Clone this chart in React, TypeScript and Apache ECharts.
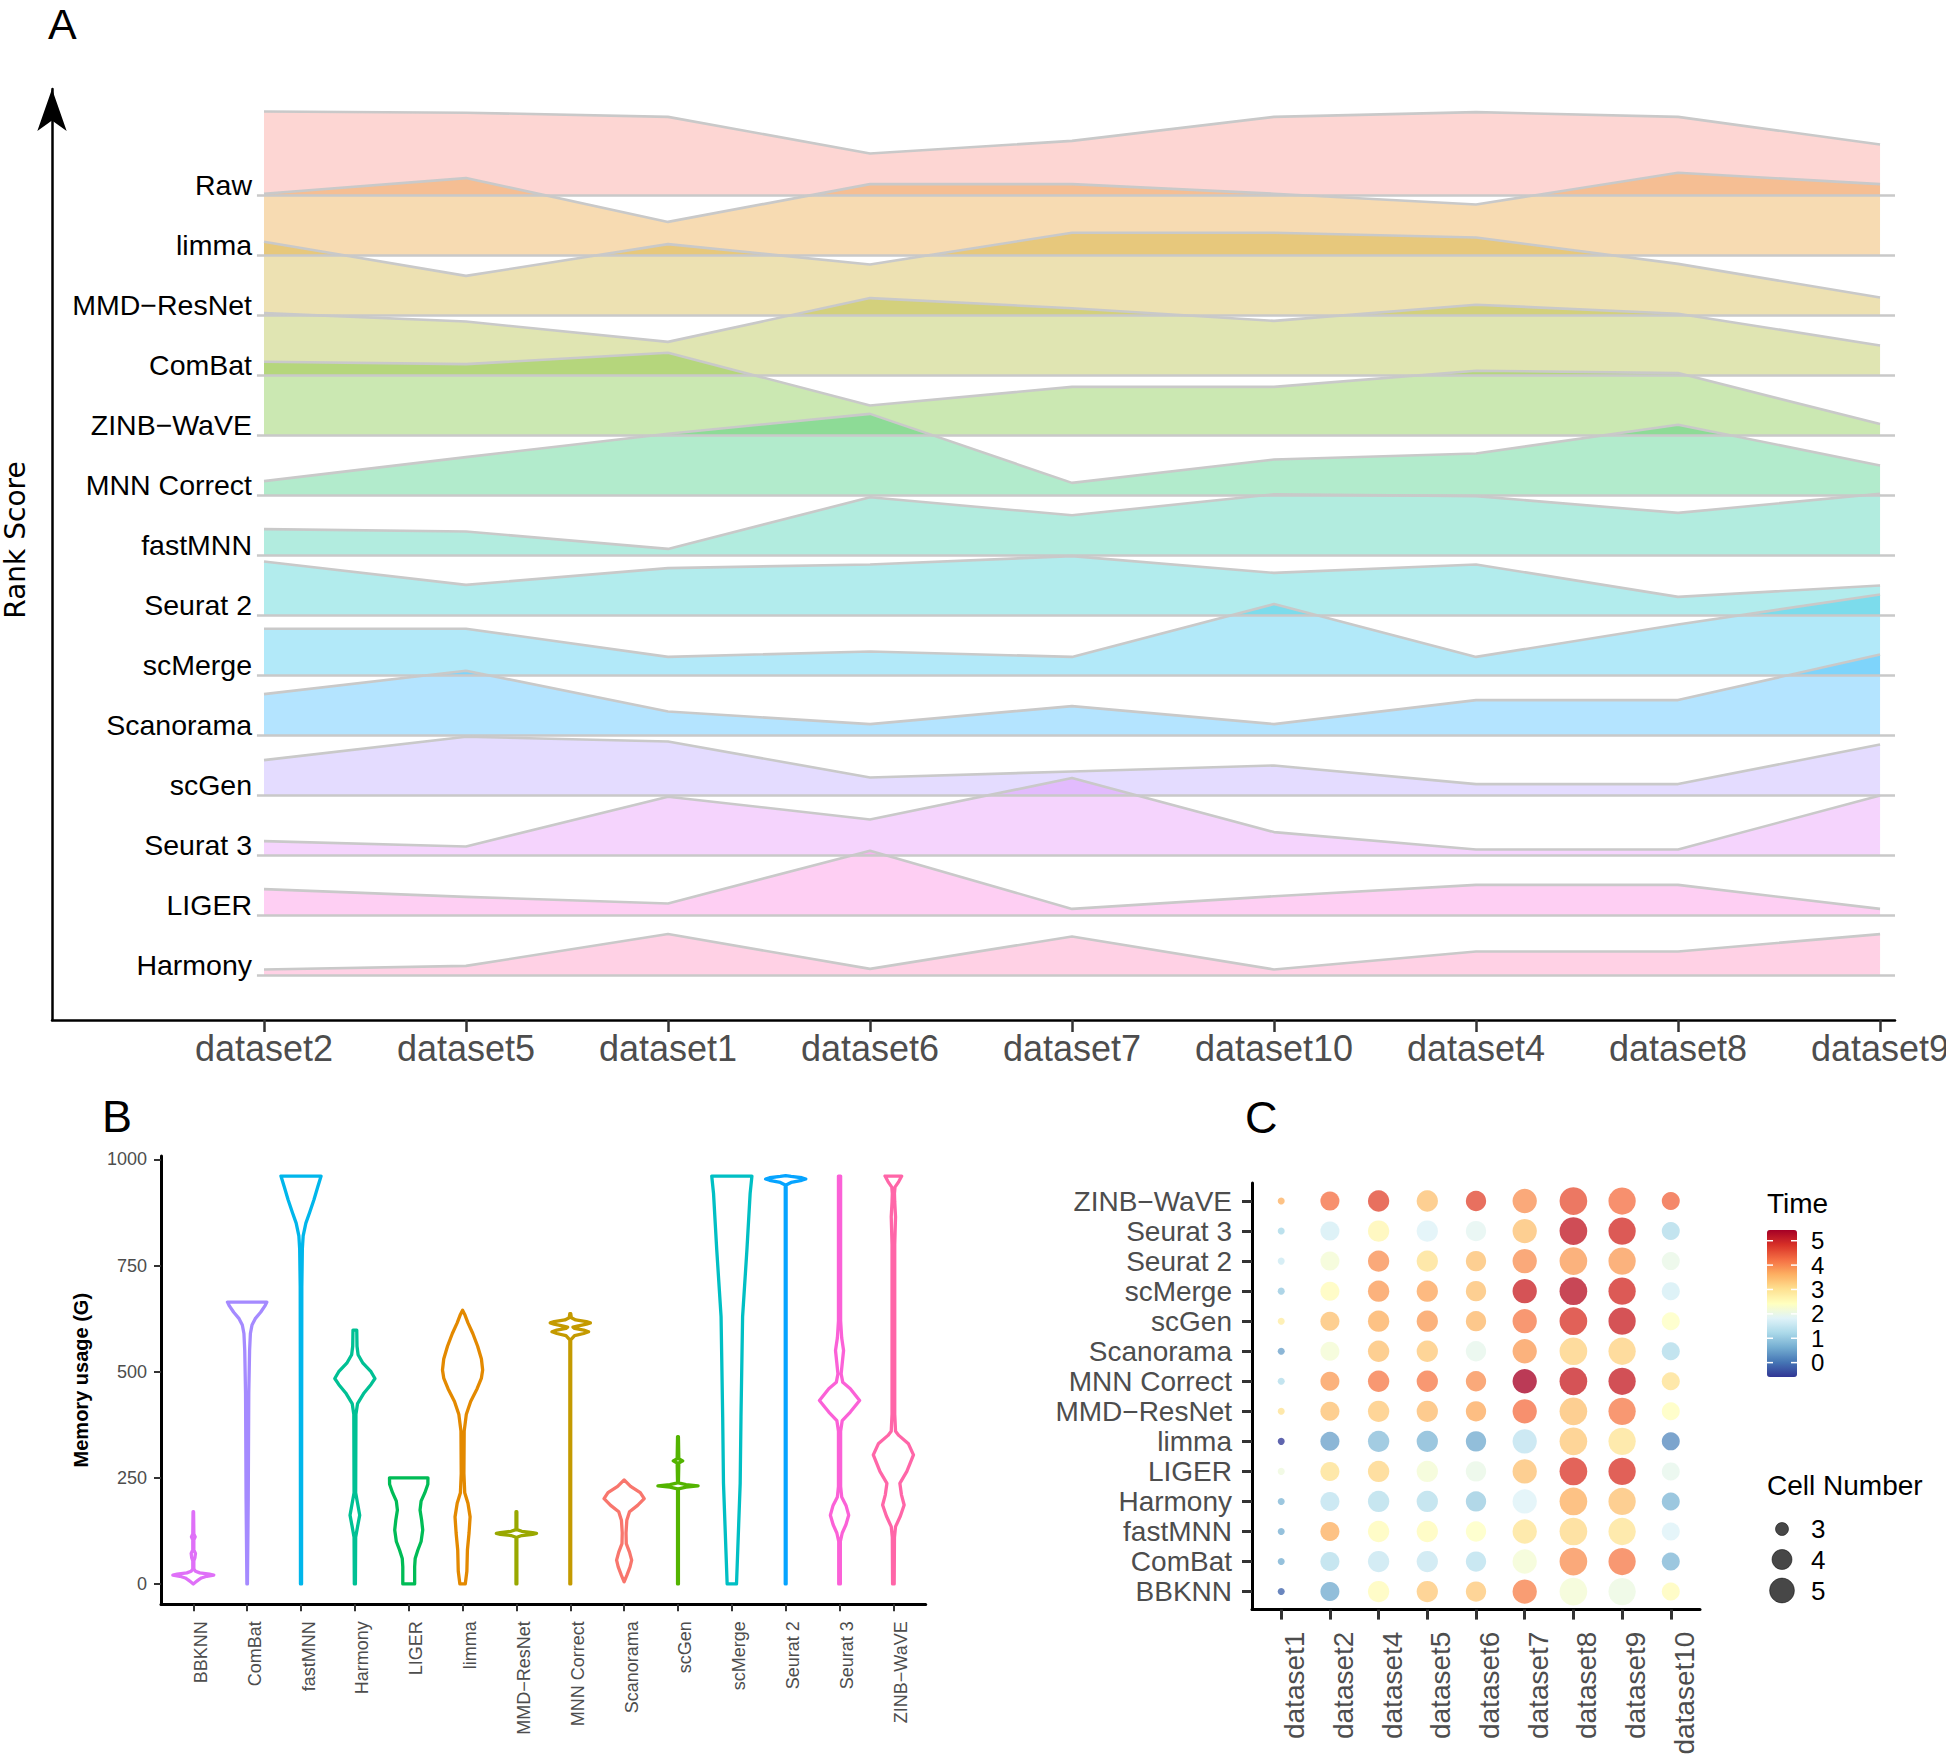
import React, { useEffect, useRef } from "react";
import * as echarts from "echarts";

const W = 1946;
const H = 1754;
const FONT = "'Liberation Sans', Arial, Helvetica, sans-serif";

const hue14 = ["#F8766D", "#E38900", "#C49A00", "#99A800", "#53B400", "#00BC56", "#00C094", "#00BFC4", "#00B6EB", "#06A4FF", "#A58AFF", "#DF70F8", "#FB61D7", "#FF66A8"];

// ---------------- Panel A : rank score ridgelines ----------------
const rankDatasets = ["dataset2", "dataset5", "dataset1", "dataset6", "dataset7", "dataset10", "dataset4", "dataset8", "dataset9"];
const rankMethods = ["Raw", "limma", "MMD−ResNet", "ComBat", "ZINB−WaVE", "MNN Correct", "fastMNN", "Seurat 2", "scMerge", "Scanorama", "scGen", "Seurat 3", "LIGER", "Harmony"];
const rankRaw = [14.0, 13.8, 13.1, 7.0, 9.1, 13.1, 13.9, 13.1, 8.5];
const rankLimma = [10.3, 12.9, 5.6, 11.9, 11.9, 10.3, 8.5, 13.8, 11.9];
const rankMMD = [12.3, 6.6, 11.9, 8.5, 13.8, 13.8, 13.0, 8.6, 3.0];
const rankComBat = [10.4, 9.0, 5.6, 12.9, 11.2, 9.1, 11.8, 10.3, 5.0];
const rankZINB = [12.3, 11.9, 13.8, 5.0, 8.1, 8.1, 10.8, 10.4, 1.9];
const rankMNN = [2.4, 6.4, 10.3, 13.6, 2.1, 6.0, 7.0, 11.8, 5.0];
const rankFastMNN = [4.4, 4.0, 1.1, 9.7, 6.7, 10.2, 9.9, 7.1, 10.3];
const rankSeurat2 = [9.0, 5.1, 7.9, 8.5, 9.9, 7.1, 8.5, 3.1, 5.0];
const rankScMerge = [7.8, 7.8, 3.1, 4.0, 3.1, 11.9, 3.1, 8.5, 13.5];
const rankScanorama = [6.9, 10.8, 4.0, 1.9, 4.9, 1.9, 5.9, 5.9, 13.5];
const rankScGen = [5.9, 9.8, 9.0, 3.0, 4.0, 5.0, 1.9, 1.9, 8.5];
const rankSeurat3 = [2.4, 1.5, 9.8, 6.0, 12.9, 3.9, 1.0, 1.0, 10.0];
const rankLIGER = [4.4, 3.1, 2.0, 10.8, 1.1, 3.2, 5.1, 5.1, 1.1];
const rankHarmony = [1.0, 1.6, 6.9, 1.1, 6.5, 1.0, 4.0, 4.0, 6.9];
const rankScores = [rankRaw, rankLimma, rankMMD, rankComBat, rankZINB, rankMNN, rankFastMNN, rankSeurat2, rankScMerge, rankScanorama, rankScGen, rankSeurat3, rankLIGER, rankHarmony];
const ROW_STEP = 10;

// ---------------- Panel B : memory usage violins ----------------
const memMethods = ["BBKNN", "ComBat", "fastMNN", "Harmony", "LIGER", "limma", "MMD−ResNet", "MNN Correct", "Scanorama", "scGen", "scMerge", "Seurat 2", "Seurat 3", "ZINB−WaVE"];
const memTicks = [0, 250, 500, 750, 1000];
const memColors = ["#DF70F8", "#A58AFF", "#00B6EB", "#00C094", "#00BC56", "#E38900", "#99A800", "#C49A00", "#F8766D", "#53B400", "#00BFC4", "#06A4FF", "#FB61D7", "#FF66A8"];
// [memory (G), half width as fraction of category spacing]
const vBBKNN = [[0, 0], [5, 0.05], [9, 0.09], [14, 0.15], [18, 0.25], [21, 0.38], [23, 0.3], [26, 0.12], [30, 0.04], [35, 0.01], [55, 0.01], [62, 0.03], [72, 0.04], [80, 0.01], [104, 0.01], [111, 0.035], [118, 0.01], [170, 0.005]];
const vComBat = [[0, 0.005], [200, 0.02], [450, 0.03], [550, 0.045], [590, 0.06], [610, 0.09], [625, 0.15], [640, 0.25], [655, 0.33], [664, 0.366]];
const vFastMNN = [[0, 0.01], [400, 0.012], [700, 0.015], [790, 0.025], [820, 0.04], [850, 0.09], [875, 0.16], [905, 0.24], [935, 0.31], [961, 0.373]];
const vHarmony = [[0, 0.01], [110, 0.015], [135, 0.05], [162, 0.09], [190, 0.05], [215, 0.015], [400, 0.02], [425, 0.05], [450, 0.17], [470, 0.3], [484, 0.373], [500, 0.3], [520, 0.15], [540, 0.06], [560, 0.04], [598, 0.035]];
const vLIGER = [[0, 0.11], [40, 0.11], [60, 0.12], [80, 0.17], [100, 0.23], [127, 0.26], [150, 0.24], [174, 0.21], [195, 0.23], [215, 0.3], [235, 0.355], [250, 0.357]];
const vLimma = [[0, 0.05], [30, 0.08], [80, 0.09], [120, 0.12], [158, 0.14], [190, 0.1], [215, 0.04], [260, 0.025], [360, 0.03], [400, 0.07], [430, 0.15], [460, 0.27], [485, 0.35], [504, 0.373], [530, 0.35], [560, 0.28], [590, 0.19], [615, 0.1], [635, 0.04], [645, 0]];
const vMMD = [[0, 0.008], [110, 0.008], [114, 0.1], [117, 0.3], [119, 0.373], [121, 0.3], [124, 0.1], [128, 0.008], [170, 0.008]];
const vMNN = [[0, 0.008], [575, 0.008], [585, 0.08], [590, 0.25], [594, 0.34], [598, 0.25], [602, 0.08], [605, 0.05], [608, 0.15], [612, 0.3], [615, 0.373], [618, 0.3], [622, 0.1], [627, 0.02], [637, 0.008]];
const vScanorama = [[5, 0], [20, 0.05], [40, 0.11], [56, 0.14], [75, 0.1], [95, 0.04], [120, 0.035], [150, 0.05], [170, 0.1], [185, 0.25], [201, 0.373], [215, 0.3], [230, 0.12], [245, 0]];
const vScGen = [[0, 0.008], [224, 0.008], [228, 0.15], [231, 0.373], [234, 0.15], [238, 0.008], [285, 0.015], [290, 0.087], [295, 0.015], [347, 0.008]];
const vScMerge = [[0, 0.087], [80, 0.11], [237, 0.155], [394, 0.17], [630, 0.2], [787, 0.28], [920, 0.34], [961, 0.373]];
const vSeurat2 = [[0, 0.008], [940, 0.008], [946, 0.1], [951, 0.3], [954, 0.373], [957, 0.3], [960, 0.1], [962, 0]];
const vSeurat3 = [[0, 0.015], [100, 0.015], [120, 0.05], [140, 0.12], [162, 0.17], [185, 0.12], [205, 0.04], [230, 0.02], [360, 0.02], [385, 0.05], [405, 0.2], [432, 0.373], [460, 0.2], [475, 0.06], [495, 0.03], [520, 0.05], [550, 0.075], [580, 0.04], [620, 0.02], [961, 0.02]];
const vZINB = [[0, 0.015], [110, 0.02], [135, 0.04], [160, 0.13], [186, 0.2], [210, 0.15], [237, 0.12], [265, 0.25], [304, 0.373], [330, 0.28], [350, 0.1], [360, 0.04], [400, 0.025], [800, 0.025], [865, 0.04], [900, 0.025], [920, 0.02], [935, 0.03], [948, 0.1], [961, 0.155]];
const violinProfiles = [vBBKNN, vComBat, vFastMNN, vHarmony, vLIGER, vLimma, vMMD, vMNN, vScanorama, vScGen, vScMerge, vSeurat2, vSeurat3, vZINB];

// ---------------- Panel C : time dot plot ----------------
const timeDatasets = ["dataset1", "dataset2", "dataset4", "dataset5", "dataset6", "dataset7", "dataset8", "dataset9", "dataset10"];
const timeMethods = ["BBKNN", "ComBat", "fastMNN", "Harmony", "LIGER", "limma", "MMD−ResNet", "MNN Correct", "Scanorama", "scGen", "scMerge", "Seurat 2", "Seurat 3", "ZINB−WaVE"];
const cellNumber = [2.57, 3.83, 4.25, 4.25, 4.06, 4.89, 5.73, 5.62, 3.66];
const tBBKNN = [-0.15, 0.6, 2.5, 3.3, 3.3, 4.05, 2.2, 2.05, 2.5];
const tComBat = [0.65, 1.35, 1.55, 1.55, 1.4, 2.2, 3.9, 4.1, 0.75];
const tFastMNN = [0.65, 3.6, 2.5, 2.5, 2.4, 2.95, 3.1, 2.95, 1.8];
const tHarmony = [0.75, 1.45, 1.35, 1.35, 1.05, 1.8, 3.6, 3.4, 0.75];
const tLIGER = [2.1, 3.0, 3.15, 2.2, 2.0, 3.4, 4.75, 4.8, 1.95];
const tLimma = [-0.55, 0.5, 0.85, 0.75, 0.6, 1.45, 3.3, 2.95, 0.25];
const tMMD = [3.0, 3.4, 3.3, 3.45, 3.65, 4.2, 3.4, 4.1, 2.45];
const tMNN = [1.3, 3.8, 4.1, 4.1, 3.9, 5.4, 5.0, 5.05, 3.0];
const tScanorama = [0.5, 2.2, 3.4, 3.3, 1.95, 3.8, 3.2, 3.2, 1.3];
const tScGen = [2.8, 3.4, 3.6, 3.8, 3.5, 4.1, 4.8, 5.0, 2.4];
const tScMerge = [1.0, 2.5, 3.8, 3.7, 3.4, 5.0, 5.2, 4.9, 1.7];
const tSeurat2 = [1.6, 2.2, 3.9, 3.0, 3.4, 3.9, 3.8, 3.8, 2.0];
const tSeurat3 = [1.2, 1.7, 2.6, 1.8, 1.9, 3.4, 5.1, 4.9, 1.3];
const tZINB = [3.6, 4.2, 4.6, 3.4, 4.6, 3.9, 4.5, 4.2, 4.3];
const timeMatrix = [tBBKNN, tComBat, tFastMNN, tHarmony, tLIGER, tLimma, tMMD, tMNN, tScanorama, tScGen, tScMerge, tSeurat2, tSeurat3, tZINB];
const timeTicks = [0, 1, 2, 3, 4, 5];
const cellTicks = [3, 4, 5];
const TIME_MIN = -0.59;
const TIME_MAX = 5.44;
const rdylbuRev = ["#313695", "#4575b4", "#74add1", "#abd9e9", "#e0f3f8", "#ffffbf", "#fee090", "#fdae61", "#f46d43", "#d73027", "#a50026"];

function rgba(hex: string, a: number) {
  const n = parseInt(hex.slice(1), 16);
  return `rgba(${(n >> 16) & 255},${(n >> 8) & 255},${n & 255},${a})`;
}
const sizeOf = (v: number) => 3.45 + 13.5 * Math.sqrt(Math.max(0, v - 2.5));
const range = (n: number) => Array.from({ length: n }, (_, i) => i);

function buildOption() {
  const nA = rankMethods.length;
  const baseOf = (i: number) => (nA - 1 - i) * ROW_STEP;
  const baselines = rankMethods.map((_, i) => baseOf(i));
  const xAMin = -1.0495;
  const xAMax = 8.074;

  const series: any[] = [];
  rankMethods.forEach((m, i) => {
    const b = baseOf(i);
    series.push({
      type: "line", name: m, xAxisIndex: 0, yAxisIndex: 0, silent: true,
      data: rankScores[i].map((v, j) => [j, b + v]),
      symbol: "none", showSymbol: false,
      lineStyle: { color: "#c9c9c9", width: 2.6, join: "round" },
      areaStyle: { color: rgba(hue14[i], 0.3), origin: b, opacity: 1 },
      z: 2,
    });
    series.push({
      type: "line", xAxisIndex: 0, yAxisIndex: 0, silent: true,
      data: [[-0.035, b], [xAMax, b]],
      symbol: "none", showSymbol: false,
      lineStyle: { color: "#c9c9c9", width: 2.6 },
      z: 2,
    });
  });

  series.push({
    type: "custom", xAxisIndex: 1, yAxisIndex: 1, silent: true, clip: false,
    data: memMethods.map((_, i) => [i, 0]),
    renderItem: (params: any, api: any) => {
      const i = api.value(0);
      const prof = violinProfiles[i];
      const bw = api.size([1, 0])[0];
      const left: number[][] = [];
      const right: number[][] = [];
      prof.forEach(([v, hw]) => {
        const p = api.coord([i, v]);
        left.push([p[0] - hw * bw, p[1]]);
        right.push([p[0] + hw * bw, p[1]]);
      });
      return {
        type: "polygon",
        shape: { points: left.concat(right.reverse()) },
        style: { fill: "none", stroke: memColors[i], lineWidth: 3.3, lineJoin: "round" },
      };
    },
  });

  const points: number[][] = [];
  timeMethods.forEach((_, r) => {
    timeDatasets.forEach((_, c) => {
      points.push([c, r, timeMatrix[r][c], cellNumber[c]]);
    });
  });
  series.push({
    type: "scatter", xAxisIndex: 2, yAxisIndex: 2, silent: true,
    data: points,
    symbolSize: (val: number[]) => sizeOf(val[3]),
    itemStyle: { opacity: 0.78 },
  });
  const scatterIndex = series.length - 1;

  // colorbar geometry (legend)
  const barLeft = 1767, barTop = 1230, barW = 30, barH = 147;
  const yOfTime = (v: number) => barTop + ((TIME_MAX - v) / (TIME_MAX - TIME_MIN)) * barH;
  const graphics: any[] = [
    { type: "text", x: 48, y: 2, style: { text: "A", font: `normal 43px ${FONT}`, lineHeight: 43, fill: "#000", align: "left", verticalAlign: "top" } },
    { type: "text", x: 102, y: 1116, style: { text: "B", font: `normal 45px ${FONT}`, fill: "#000", align: "left", verticalAlign: "middle" } },
    { type: "text", x: 1245, y: 1117, style: { text: "C", font: `normal 45px ${FONT}`, fill: "#000", align: "left", verticalAlign: "middle" } },
    { type: "text", x: 15, y: 540, rotation: Math.PI / 2, style: { text: "Rank Score", font: `normal 28px 'DejaVu Sans', sans-serif`, fill: "#000", align: "center", verticalAlign: "middle" } },
    { type: "text", x: 1767, y: 1203, style: { text: "Time", font: `normal 28px ${FONT}`, fill: "#000", align: "left", verticalAlign: "middle" } },
    { type: "text", x: 1767, y: 1485, style: { text: "Cell Number", font: `normal 28px ${FONT}`, fill: "#000", align: "left", verticalAlign: "middle" } },
  ];
  timeTicks.forEach((t) => {
    const y = yOfTime(t);
    graphics.push({ type: "line", shape: { x1: barLeft, y1: y, x2: barLeft + 6, y2: y }, style: { stroke: "#fff", lineWidth: 1.5 }, z: 100 });
    graphics.push({ type: "line", shape: { x1: barLeft + barW - 6, y1: y, x2: barLeft + barW, y2: y }, style: { stroke: "#fff", lineWidth: 1.5 }, z: 100 });
    graphics.push({ type: "text", x: 1811, y, style: { text: String(t), font: `normal 24px ${FONT}`, lineHeight: 24, fill: "#000", align: "left", verticalAlign: "middle" } });
  });
  const sizeLegendY = [1529, 1559.5, 1590.5];
  cellTicks.forEach((c, k) => {
    graphics.push({ type: "circle", shape: { cx: 1782, cy: sizeLegendY[k], r: sizeOf(c) / 2 }, style: { fill: "rgba(0,0,0,0.72)", stroke: "rgba(0,0,0,0.5)", lineWidth: 1 } });
    graphics.push({ type: "text", x: 1811, y: sizeLegendY[k], style: { text: String(c), font: `normal 26px ${FONT}`, fill: "#000", align: "left", verticalAlign: "middle" } });
  });

  const idxA = range(rankDatasets.length);
  const idxB = range(memMethods.length);
  const idxCx = range(timeDatasets.length);
  const idxCy = range(timeMethods.length);

  return {
    animation: false,
    backgroundColor: "#ffffff",
    textStyle: { fontFamily: FONT },
    grid: [
      { left: 52, right: W - 1895, top: 89, bottom: H - 1020, containLabel: false, outerBoundsMode: "none" },
      { left: 161, right: W - 925.7, top: 1156.1, bottom: H - 1604.3, containLabel: false, outerBoundsMode: "none" },
      { left: 1252, right: W - 1700, top: 1183, bottom: H - 1609.6, containLabel: false, outerBoundsMode: "none" },
    ],
    xAxis: [
      {
        type: "value", gridIndex: 0, min: xAMin, max: xAMax,
        axisLine: { show: true, onZero: false, lineStyle: { color: "#000", width: 2.5 } },
        axisTick: { show: true, customValues: idxA, length: 12, lineStyle: { color: "#333", width: 2.5 } },
        axisLabel: { show: true, customValues: idxA, hideOverlap: false, formatter: (v: number) => rankDatasets[Math.round(v)], fontSize: 36, fontFamily: FONT, color: "#4d4d4d", margin: 10, lineHeight: 36, verticalAlign: "top" },
        splitLine: { show: false },
      },
      {
        type: "value", gridIndex: 1, min: -0.6, max: memMethods.length - 0.4,
        axisLine: { show: true, onZero: false, lineStyle: { color: "#000", width: 3 } },
        axisTick: { show: true, customValues: idxB, length: 7, lineStyle: { color: "#333", width: 2 } },
        axisLabel: { show: true, customValues: idxB, hideOverlap: false, rotate: 90, formatter: (v: number) => memMethods[Math.round(v)], fontSize: 18, fontFamily: FONT, color: "#4d4d4d", margin: 17, verticalAlign: "top", lineHeight: 15 },
        splitLine: { show: false },
      },
      {
        type: "value", gridIndex: 2, min: -0.6, max: timeDatasets.length - 0.4,
        axisLine: { show: true, onZero: false, lineStyle: { color: "#000", width: 3 } },
        axisTick: { show: true, customValues: idxCx, length: 10, lineStyle: { color: "#333", width: 3 } },
        axisLabel: { show: true, customValues: idxCx, hideOverlap: false, rotate: 90, formatter: (v: number) => timeDatasets[Math.round(v)], fontSize: 28, fontFamily: FONT, color: "#4d4d4d", margin: 22, verticalAlign: "top", lineHeight: 27 },
        splitLine: { show: false },
      },
    ],
    yAxis: [
      {
        type: "value", gridIndex: 0, min: -7.42, max: 147.75,
        axisLine: { show: true, onZero: false, symbol: ["none", "arrow"], symbolSize: [22, 42], lineStyle: { color: "#000", width: 2.5 } },
        axisTick: { show: false },
        axisLabel: {
          show: true, inside: true, customValues: baselines, hideOverlap: false,
          formatter: (v: number) => rankMethods[nA - 1 - Math.round(v / ROW_STEP)],
          align: "right", margin: 200, fontSize: 28.5, fontFamily: FONT, color: "#000", verticalAlign: "bottom", lineHeight: 21,
        },
        splitLine: { show: false },
      },
      {
        type: "value", gridIndex: 1, min: -48, max: 1008,
        name: "Memory usage (G)", nameLocation: "middle", nameGap: 70, nameRotate: 90,
        nameTextStyle: { fontSize: 20, fontWeight: "bold", color: "#000", fontFamily: FONT },
        axisLine: { show: true, onZero: false, lineStyle: { color: "#000", width: 3 } },
        axisTick: { show: true, customValues: memTicks, length: 7, lineStyle: { color: "#333", width: 2 } },
        axisLabel: { show: true, customValues: memTicks, hideOverlap: false, formatter: (v: number) => String(v), fontSize: 18, fontFamily: FONT, color: "#4d4d4d", margin: 14 },
        splitLine: { show: false },
      },
      {
        type: "value", gridIndex: 2, min: -0.6, max: timeMethods.length - 0.4,
        axisLine: { show: true, onZero: false, lineStyle: { color: "#000", width: 3 } },
        axisTick: { show: true, customValues: idxCy, length: 10, lineStyle: { color: "#333", width: 3 } },
        axisLabel: { show: true, customValues: idxCy, hideOverlap: false, formatter: (v: number) => timeMethods[Math.round(v)], fontSize: 28, fontFamily: FONT, color: "#4d4d4d", margin: 20 },
        splitLine: { show: false },
      },
    ],
    visualMap: {
      type: "continuous", seriesIndex: scatterIndex, dimension: 2,
      min: TIME_MIN, max: TIME_MAX, calculable: false, hoverLink: false,
      orient: "vertical", left: barLeft, top: barTop, itemWidth: barW, itemHeight: barH, padding: 0,
      inRange: { color: rdylbuRev },
    },
    graphic: { elements: graphics },
    series,
  };
}

export default function App() {
  const ref = useRef<HTMLDivElement>(null);
  useEffect(() => {
    if (!ref.current) return;
    const chart = echarts.init(ref.current, null, { renderer: "svg", width: W, height: H });
    chart.setOption(buildOption() as any);
    return () => chart.dispose();
  }, []);
  return <div ref={ref} style={{ position: "absolute", left: 0, top: 0, width: W, height: H, background: "#fff" }} />;
}
